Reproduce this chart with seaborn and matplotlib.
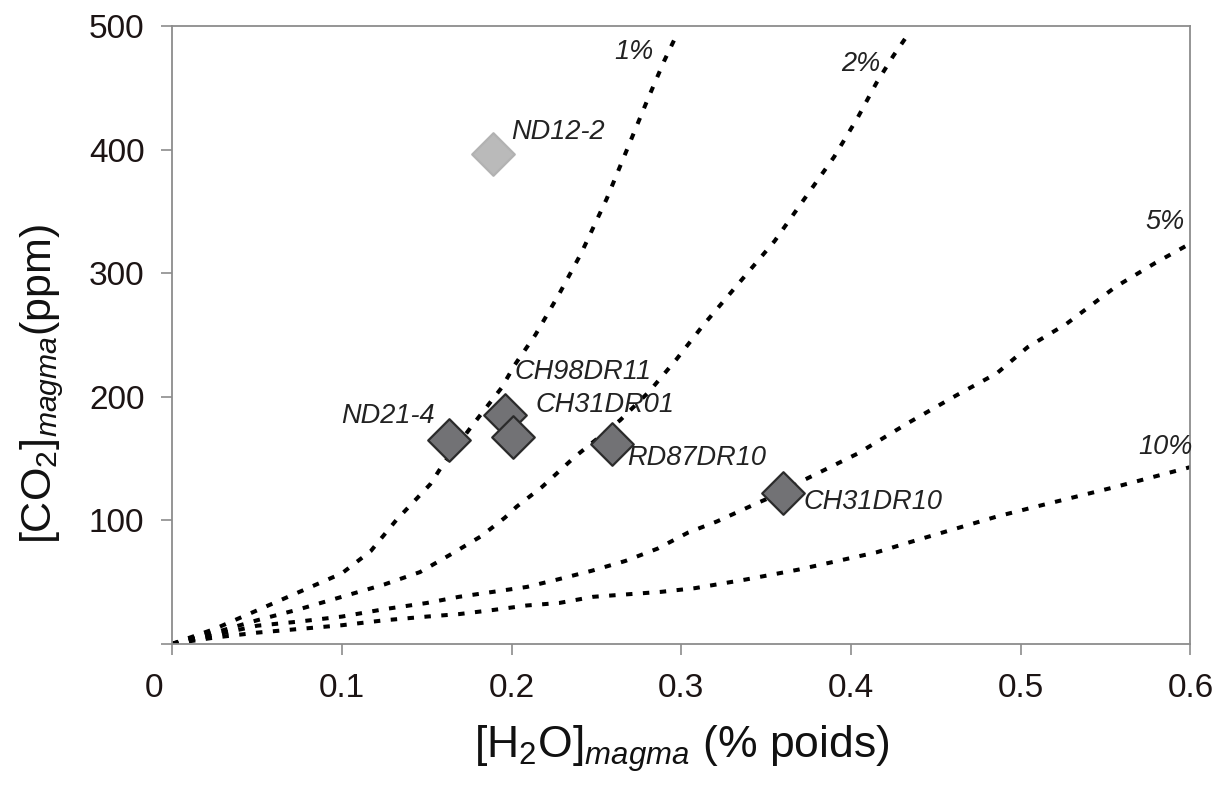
import matplotlib
matplotlib.use("Agg")
import matplotlib.pyplot as plt
import matplotlib.transforms as mtransforms
import seaborn as sns

# courbes de dégazage (H2O en % poids, CO2 en ppm)
h2o_1 = [0, 0.025, 0.05, 0.075, 0.1, 0.117, 0.132, 0.152, 0.160, 0.177, 0.194, 0.202,
         0.214, 0.228, 0.241, 0.256, 0.268, 0.280, 0.290, 0.298]
co2_1 = [0, 12, 27, 42, 57, 75, 100, 129, 146, 177, 207, 226,
         250, 283, 316, 360, 400, 440, 472, 495]

h2o_2 = [0, 0.025, 0.05, 0.075, 0.1, 0.125, 0.146, 0.165, 0.182, 0.196, 0.203, 0.218,
         0.237, 0.264, 0.281, 0.297, 0.313, 0.334, 0.355, 0.373, 0.390, 0.404, 0.415,
         0.425, 0.432]
co2_2 = [0, 9, 19, 28, 38, 48, 58, 73, 87, 102, 111, 127,
         151, 181, 204, 230, 258, 292, 326, 361, 394, 426, 454,
         476, 490]

h2o_5 = [0, 0.025, 0.05, 0.075, 0.1, 0.125, 0.150, 0.169, 0.189, 0.209, 0.227, 0.247,
         0.267, 0.286, 0.304, 0.321, 0.345, 0.360, 0.373, 0.404, 0.434, 0.462, 0.486,
         0.504, 0.527, 0.556, 0.579, 0.6]
co2_5 = [0, 7, 14.6, 18, 22, 28, 33, 38, 42, 46, 52, 59,
         67, 77, 90, 99, 114, 123, 133, 154, 179, 201, 219,
         240, 259, 289, 308, 324]

h2o_10 = [0, 0.025, 0.05, 0.075, 0.1, 0.125, 0.150, 0.169, 0.190, 0.209, 0.228, 0.248,
          0.268, 0.288, 0.308, 0.338, 0.369, 0.415, 0.439, 0.486, 0.509, 0.556, 0.6]
co2_10 = [0, 5, 9, 12, 15, 19, 22, 24, 27.5, 31, 33, 38,
          40, 42, 45, 52, 60, 74, 84, 103, 111, 127, 143]

curve_labels = ["1%", "2%", "5%", "10%"]

# échantillons
samples = ["ND12-2", "ND21-4", "CH98DR11", "CH31DR01", "RD87DR10", "CH31DR10"]
h2o_samples = [0.189, 0.163, 0.196, 0.201, 0.259, 0.360]
co2_samples = [396, 165, 185, 167, 162, 122]

xticks = [0, 0.1, 0.2, 0.3, 0.4, 0.5, 0.6]
yticks = [0, 100, 200, 300, 400, 500]

sns.set_style("ticks")
plt.rcParams['font.family'] = ['Liberation Sans', 'DejaVu Sans']
plt.rcParams['mathtext.fontset'] = 'custom'
plt.rcParams['mathtext.rm'] = 'Liberation Sans'
plt.rcParams['mathtext.it'] = 'Liberation Sans:italic'

fig = plt.figure(figsize=(12.21, 7.87), dpi=100)
ax = fig.add_axes([0.141, 0.182, 0.834, 0.785])

dots = (0, (1.6, 2.6))
for xs, ys in [(h2o_1, co2_1), (h2o_2, co2_2), (h2o_5, co2_5), (h2o_10, co2_10)]:
    sns.lineplot(x=xs, y=ys, ax=ax, sort=False, estimator=None, color='black',
                 linewidth=2.9, linestyle=dots, zorder=2)

# ND12-2 en gris clair, les autres en gris foncé
colors = ['#bababa'] + ['#727275'] * 5
edges = ['#b2b2b2'] + ['#2b2b2b'] * 5
for i in range(len(samples)):
    sns.scatterplot(x=[h2o_samples[i]], y=[co2_samples[i]], ax=ax, marker='D', s=470,
                    color=colors[i], edgecolor=edges[i], linewidth=1.6, zorder=3)

# étiquettes des courbes
lab_style = dict(fontsize=19.5, style='italic', color='#222222')
ax.text(0.272, 479, curve_labels[0], ha='center', va='center', **lab_style)
ax.text(0.406, 469, curve_labels[1], ha='center', va='center', **lab_style)
ax.text(0.585, 341, curve_labels[2], ha='center', va='center', **lab_style)
ax.text(0.585, 159, curve_labels[3], ha='center', va='center', **lab_style)

# étiquettes des échantillons
ax.text(0.2, 414, samples[0], ha='left', va='center', **lab_style)
ax.text(0.155, 184, samples[1], ha='right', va='center', **lab_style)
ax.text(0.202, 220, samples[2], ha='left', va='center', **lab_style)
ax.text(0.214, 193, samples[3], ha='left', va='center', **lab_style)
ax.text(0.268, 150, samples[4], ha='left', va='center', **lab_style)
ax.text(0.372, 115, samples[5], ha='left', va='center', **lab_style)

ax.set_xlim(0, 0.6)
ax.set_ylim(0, 500)
ax.set_xticks(xticks)
ax.set_xticklabels(['0', '0.1', '0.2', '0.3', '0.4', '0.5', '0.6'])
ax.set_yticks(yticks)
ax.set_yticklabels([''] + [str(v) for v in yticks[1:]])

for side in ['left', 'right', 'top', 'bottom']:
    ax.spines[side].set_color('#8c8c8c')
    ax.spines[side].set_linewidth(1.3)
ax.tick_params(axis='both', direction='out', length=8, width=1.2, color='#8c8c8c',
               labelsize=24, labelcolor='#1c1414')
ax.tick_params(axis='x', pad=13)
ax.tick_params(axis='y', pad=12)

# le "0" de l'axe x est décalé à gauche
lab0 = ax.get_xticklabels()[0]
lab0.set_transform(lab0.get_transform() + mtransforms.ScaledTranslation(-18 / 100, 0, fig.dpi_scale_trans))

ax.set_xlabel(r'[H$_2$O]$_{magma}$ (% poids)', fontsize=32, color='#111111')
ax.set_ylabel(r'[CO$_2$]$_{magma}$(ppm)', fontsize=31, color='#111111')
ax.xaxis.set_label_coords(0.5, -0.128)
ax.yaxis.set_label_coords(-0.104, 0.42)

plt.savefig("out.png", dpi=100)
plt.close()
